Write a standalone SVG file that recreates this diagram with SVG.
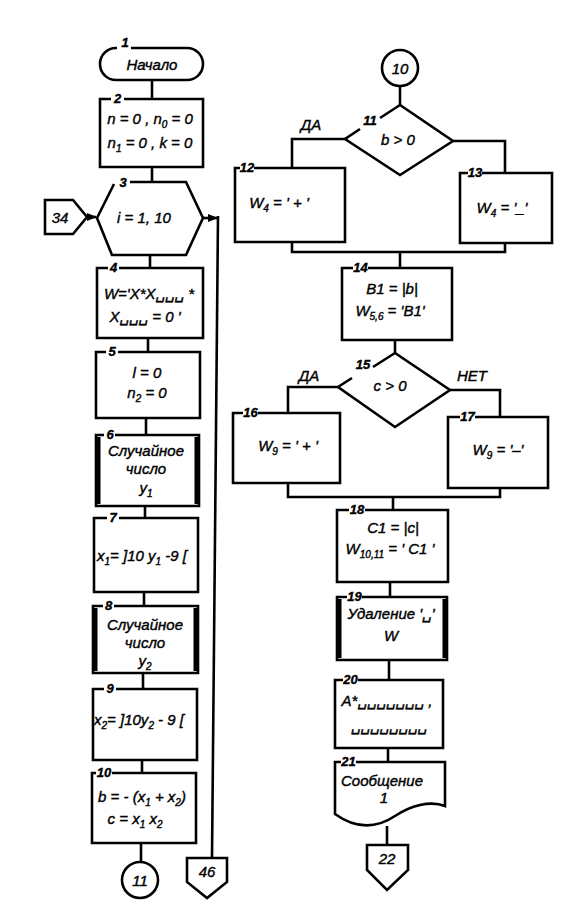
<svg xmlns="http://www.w3.org/2000/svg" width="581" height="918" viewBox="0 0 581 918">
<style>
.s{fill:none;stroke:#000;stroke-width:2.6;stroke-linejoin:miter}
.k{fill:none;stroke:#000;stroke-width:5}
text{font-family:"Liberation Sans","DejaVu Sans",sans-serif;font-style:italic;font-size:15px;text-anchor:middle;fill:#000;stroke:#000;stroke-width:0.4}
.l{font-size:13px;font-weight:bold}
.sb{font-size:10px}
</style>
<defs>
<marker id="ar" markerWidth="10" markerHeight="8" refX="9" refY="4" orient="auto" markerUnits="userSpaceOnUse">
<path d="M0,0 L10,4 L0,8 Z" fill="#000"/>
</marker>
</defs>
<rect width="581" height="918" fill="#fff"/>
<g id="connectors">
<path class="s" d="M152,80 V99"/>
<path class="s" d="M152,167 V182"/>
<path class="s" d="M87,217 H96" marker-end="url(#ar)"/>
<path class="s" d="M203,218 H217" marker-end="url(#ar)"/>
<path class="s" d="M218,216 L212,858"/>
<path class="s" d="M150,255 V268"/>
<path class="s" d="M148,338 V352"/>
<path class="s" d="M146,418 V435"/>
<path class="s" d="M145,506 V518"/>
<path class="s" d="M144,592 V606"/>
<path class="s" d="M143,673 V689"/>
<path class="s" d="M142,760 V773"/>
<path class="s" d="M141,843 V862"/>
<path class="s" d="M400,86 V105"/>
<path class="s" d="M345,139 H292 V168"/>
<path class="s" d="M453,141 H505 V173"/>
<path class="s" d="M292,242 V252 H505 V243"/>
<path class="s" d="M400,252 V268"/>
<path class="s" d="M395,340 V353"/>
<path class="s" d="M338,387 H288 V413"/>
<path class="s" d="M450,390 H500 V417"/>
<path class="s" d="M288,483 V497 H500 V488"/>
<path class="s" d="M393,497 V510"/>
<path class="s" d="M390,582 V597"/>
<path class="s" d="M389,660 V680"/>
<path class="s" d="M388,748 V762"/>
<path class="s" d="M387,826 V845"/>
</g>
<g id="n1">
<path class="s" d="M131,48 H187 A16,16 0 0 1 187,80 H116 A16,16 0 0 1 116,48 H117"/>
<text class="l" x="125" y="47">1</text>
<text x="152" y="70">Начало</text>
</g>
<g id="n2">
<path class="s" d="M124,99 H203 V167 H100 V99 H111"/>
<text class="l" x="117.5" y="103">2</text>
<text x="150" y="124">n = 0 , n<tspan class="sb" dy="4">0</tspan><tspan dy="-4"> = 0</tspan></text>
<text x="150" y="148">n<tspan class="sb" dy="4">1</tspan><tspan dy="-4"> = 0 ,  k = 0</tspan></text>
</g>
<g id="n3">
<path class="s" d="M130,182 H186 L203,218 L186,255 H112 L97,218 L114,184"/>
<text class="l" x="123" y="187">3</text>
<text x="144" y="223">i = 1, 10</text>
</g>
<g id="c34">
<path class="s" d="M45,200 H73 L87,217 L73,234 H45 Z"/>
<text x="60" y="223">34</text>
</g>
<g id="n4">
<path class="s" d="M119,268 H203 V338 H97 V268 H108"/>
<text class="l" x="113.5" y="272">4</text>
<text x="149" y="299" font-size="14">W='X*X␣␣␣ *</text>
<text x="145" y="322" font-size="14">X␣␣␣ = 0 '</text>
</g>
<g id="n5">
<path class="s" d="M118,352 H200 V418 H96 V352 H106"/>
<text class="l" x="112" y="356">5</text>
<text x="147" y="378">l = 0</text>
<text x="147" y="398">n<tspan class="sb" dy="4">2</tspan><tspan dy="-4"> = 0</tspan></text>
</g>
<g id="n6">
<path class="s" d="M115,435 H199 V506 H96 V435 H104"/>
<path class="k" d="M98,437 V504 M197,437 V504"/>
<text class="l" x="110" y="439">6</text>
<text x="146" y="456">Случайное</text>
<text x="146" y="474">число</text>
<text x="146" y="493">y<tspan class="sb" dy="4">1</tspan></text>
</g>
<g id="n7">
<path class="s" d="M119,518 H198 V592 H94 V518 H107"/>
<text class="l" x="113" y="522">7</text>
<text x="142" y="561" font-size="14">x<tspan class="sb" dy="4">1</tspan><tspan dy="-4">= ]10 y</tspan><tspan class="sb" dy="4">1</tspan><tspan dy="-4"> -9 [</tspan></text>
</g>
<g id="n8">
<path class="s" d="M114,606 H198 V673 H93 V606 H103"/>
<path class="k" d="M95,608 V671 M196,608 V671"/>
<text class="l" x="108.5" y="610">8</text>
<text x="145" y="630">Случайное</text>
<text x="145" y="648">число</text>
<text x="145" y="666">y<tspan class="sb" dy="4">2</tspan></text>
</g>
<g id="n9">
<path class="s" d="M116,689 H197 V760 H93 V689 H104"/>
<text class="l" x="110" y="693">9</text>
<text x="139" y="725" font-size="14">x<tspan class="sb" dy="4">2</tspan><tspan dy="-4">= ]10y</tspan><tspan class="sb" dy="4">2</tspan><tspan dy="-4"> - 9 [</tspan></text>
</g>
<g id="n10">
<path class="s" d="M112,773 H196 V843 H92 V773 H96"/>
<text class="l" x="104" y="777">10</text>
<text x="142" y="802">b = - (x<tspan class="sb" dy="4">1</tspan><tspan dy="-4"> + x</tspan><tspan class="sb" dy="4">2</tspan><tspan dy="-4">)</tspan></text>
<text x="135" y="824">c =  x<tspan class="sb" dy="4">1</tspan><tspan dy="-4"> x</tspan><tspan class="sb" dy="4">2</tspan></text>
</g>
<g id="c11">
<circle class="s" cx="140" cy="880" r="18"/>
<text x="140" y="886">11</text>
</g>
<g id="c46">
<path class="s" d="M187,858 H227 V882 L207,898 L187,882 Z"/>
<text x="207" y="877">46</text>
</g>
<g id="c10">
<circle class="s" cx="400" cy="68" r="18"/>
<text x="400" y="74">10</text>
</g>
<g id="n11">
<path class="s" d="M380,118 L400,105 L453,141 L400,175 L345,139 L360,129"/>
<text class="l" x="370" y="125">11</text>
<text x="398" y="145">b &gt; 0</text>
<text x="311" y="130">ДА</text>
</g>
<g id="n12">
<path class="s" d="M254,168 H345 V242 H235 V168 H240"/>
<text class="l" x="247" y="172">12</text>
<text x="279" y="208">W<tspan class="sb" dy="4">4</tspan><tspan dy="-4"> = ' + '</tspan></text>
</g>
<g id="n13">
<path class="s" d="M482,173 H552 V243 H460 V173 H468"/>
<text class="l" x="475" y="177">13</text>
<text x="502" y="213">W<tspan class="sb" dy="4">4</tspan><tspan dy="-4"> = '_'</tspan></text>
</g>
<g id="n14">
<path class="s" d="M368,268 H452 V340 H342 V268 H353"/>
<text class="l" x="360.5" y="272">14</text>
<text x="392" y="294">B1 = |b|</text>
<text x="390" y="316">W<tspan class="sb" dy="4">5,6</tspan><tspan dy="-4"> = 'B1'</tspan></text>
</g>
<g id="n15">
<path class="s" d="M373,367 L395,353 L450,390 L395,427 L338,387 L352,378"/>
<text class="l" x="363" y="369">15</text>
<text x="390" y="391">c &gt; 0</text>
<text x="309" y="381">ДА</text>
<text x="472" y="381">НЕТ</text>
</g>
<g id="n16">
<path class="s" d="M258,413 H340 V483 H233 V413 H243"/>
<text class="l" x="250.5" y="417">16</text>
<text x="288" y="451">W<tspan class="sb" dy="4">9</tspan><tspan dy="-4"> = ' + '</tspan></text>
</g>
<g id="n17">
<path class="s" d="M475,417 H548 V488 H448 V417 H460"/>
<text class="l" x="467.5" y="421">17</text>
<text x="498" y="455">W<tspan class="sb" dy="4">9</tspan><tspan dy="-4"> = '–'</tspan></text>
</g>
<g id="n18">
<path class="s" d="M365,510 H448 V582 H337 V510 H349"/>
<text class="l" x="357" y="514">18</text>
<text x="393" y="533">C1 = |c|</text>
<text x="390" y="554">W<tspan class="sb" dy="4">10,11</tspan><tspan dy="-4"> = ' C1 '</tspan></text>
</g>
<g id="n19">
<path class="s" d="M362,597 H447 V660 H337 V597 H347"/>
<path class="k" d="M339,599 V658 M445,599 V658"/>
<text class="l" x="354.5" y="601">19</text>
<text x="391" y="619">Удаление '␣'</text>
<text x="391" y="641">W</text>
</g>
<g id="n20">
<path class="s" d="M358,680 H443 V748 H335 V680 H343"/>
<text class="l" x="350.5" y="684">20</text>
<text x="387" y="706" font-size="14">A*␣␣␣␣␣␣␣ ,</text>
<text x="389" y="731" font-size="14">␣␣␣␣␣␣␣␣</text>
</g>
<g id="n21">
<path class="s" d="M356,762 H445 V806 C430,800 410,806 395,816 C380,826 360,832 335,814 V762 H341"/>
<text class="l" x="348.5" y="766">21</text>
<text x="382" y="786">Сообщение</text>
<text x="384" y="803">1</text>
</g>
<g id="c22">
<path class="s" d="M367,845 H408 V870 L387,890 L367,870 Z"/>
<text x="387" y="864">22</text>
</g>
</svg>
